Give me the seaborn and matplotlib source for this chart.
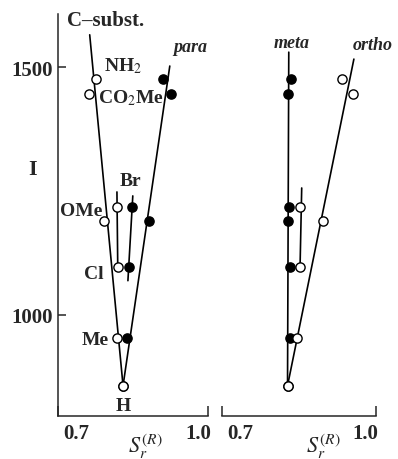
import numpy as np
import pandas as pd
import seaborn as sns
import matplotlib.pyplot as plt

# substituents, same order in every list below
subst = ['H', 'Me', 'Cl', 'Br', 'OMe', 'CO2Me', 'NH2']
I_val = [857, 953, 1096, 1217, 1189, 1445, 1475]

# left panel: C-substituted (open) and para (filled)
c_x = [0.816, 0.801, 0.803, 0.801, 0.769, 0.732, 0.749]
para_x = [0.816, 0.825, 0.831, 0.838, 0.880, 0.934, 0.914]
# right panel: meta (filled) and ortho (open)
meta_x = [0.813, 0.818, 0.820, 0.816, 0.814, 0.814, 0.821]
ortho_x = [0.813, 0.835, 0.843, 0.843, 0.898, 0.970, 0.943]

# straight lines (x pair, y pair)
c_fit = ([0.734, 0.816], [1565, 857])
para_fit = ([0.816, 0.931], [857, 1502])
meta_fit = ([0.813, 0.816], [857, 1530])
ortho_fit = ([0.813, 0.972], [857, 1516])
hal_c = ([0.801, 0.803], [1248, 1096])
hal_para = ([0.840, 0.828], [1240, 1069])
hal_ortho = ([0.847, 0.843], [1256, 1096])

sns.set_theme(style='ticks')
plt.rcParams['font.family'] = ['Liberation Serif', 'DejaVu Serif']
plt.rcParams['mathtext.fontset'] = 'stix'

XLIM = (0.656, 1.025)
YLIM = (796, 1607)

fig = plt.figure(figsize=(3.98, 4.60), dpi=100)
axL = fig.add_axes([58 / 398, 43 / 460, 150 / 398, 402 / 460])
axR = fig.add_axes([222 / 398, 43 / 460, 154 / 398, 402 / 460])

df = pd.DataFrame({'subst': subst, 'I': I_val, 'c': c_x, 'para': para_x,
                   'meta': meta_x, 'ortho': ortho_x})


def line(ax, fit):
    sns.lineplot(x=fit[0], y=fit[1], ax=ax, color='black', lw=1.2,
                 sort=False, estimator=None, zorder=2)


def pts(ax, col, filled):
    sns.scatterplot(data=df, x=col, y='I', ax=ax, s=44, marker='o',
                    facecolor='black' if filled else 'white',
                    edgecolor='black', linewidth=1.0, zorder=3)


for fit in (c_fit, para_fit, hal_c, hal_para):
    line(axL, fit)
pts(axL, 'para', True)
pts(axL, 'c', False)

for fit in (meta_fit, ortho_fit, hal_ortho):
    line(axR, fit)
pts(axR, 'meta', True)
pts(axR, 'ortho', False)

fs = 15
# substituent labels next to the open C-subst points (offsets in pixels)
offsets = {'H': (0, -20, 'center'), 'Me': (-8, -1, 'right'),
           'Cl': (-14, -6, 'right'), 'Br': (3, 27, 'left'),
           'OMe': (-2, 11, 'right'), 'CO2Me': (9, -3, 'left'),
           'NH2': (8, 14, 'left')}
names = {'CO2Me': r'CO$_2$Me', 'NH2': r'NH$_2$'}
for s, x, y in zip(subst, c_x, I_val):
    dx, dy, ha = offsets[s]
    axL.annotate(names.get(s, s), (x, y), xytext=(dx, dy),
                 textcoords='offset pixels', ha=ha, va='center',
                 fontsize=fs - 1, fontweight='bold')

axL.text(0.06, 0.985, 'C–subst.', transform=axL.transAxes, fontsize=fs,
         fontweight='bold', ha='left', va='center')
axL.text(0.88, 0.918, 'para', transform=axL.transAxes, fontsize=13,
         fontweight='bold', style='italic', ha='center', va='center')
axR.text(0.455, 0.930, 'meta', transform=axR.transAxes, fontsize=13,
         fontweight='bold', style='italic', ha='center', va='center')
axR.text(0.98, 0.925, 'ortho', transform=axR.transAxes, fontsize=13,
         fontweight='bold', style='italic', ha='center', va='center',
         clip_on=False)

for ax in (axL, axR):
    ax.set_xlim(XLIM)
    ax.set_ylim(YLIM)
    ax.spines['top'].set_visible(False)
    ax.spines['right'].set_visible(False)
    for sp in ax.spines.values():
        sp.set_linewidth(1.1)
    # end brackets as inward major ticks, labels as minor ticks
    ax.set_xticks(list(XLIM))
    ax.set_xticklabels([])
    ax.tick_params(axis='x', which='major', direction='in', length=7,
                   width=1.1)
    ax.set_xticks([0.7, 1.0], minor=True)
    ax.set_xticklabels(['0.7', '1.0'], minor=True, fontsize=fs,
                       fontweight='bold')
    ax.tick_params(axis='x', which='minor', length=0, pad=5)
    ax.set_xlabel(r'$S_r^{(R)}$', fontsize=fs + 1, labelpad=0)

axL.xaxis.set_label_coords(0.58, -0.038)
axR.xaxis.set_label_coords(0.66, -0.038)

axL.set_yticks([1000, 1500])
axL.set_yticklabels(['1000', '1500'], fontsize=fs, fontweight='bold')
axL.tick_params(axis='y', direction='in', length=6, width=1.1, pad=4)
axL.set_ylabel('I', rotation=0, fontsize=fs + 1, fontweight='bold')
axL.yaxis.set_label_coords(-0.17, 0.59)

axR.spines['left'].set_visible(False)
axR.set_yticks([])
axR.set_ylabel('')

fig.savefig('out.png', dpi=100)
